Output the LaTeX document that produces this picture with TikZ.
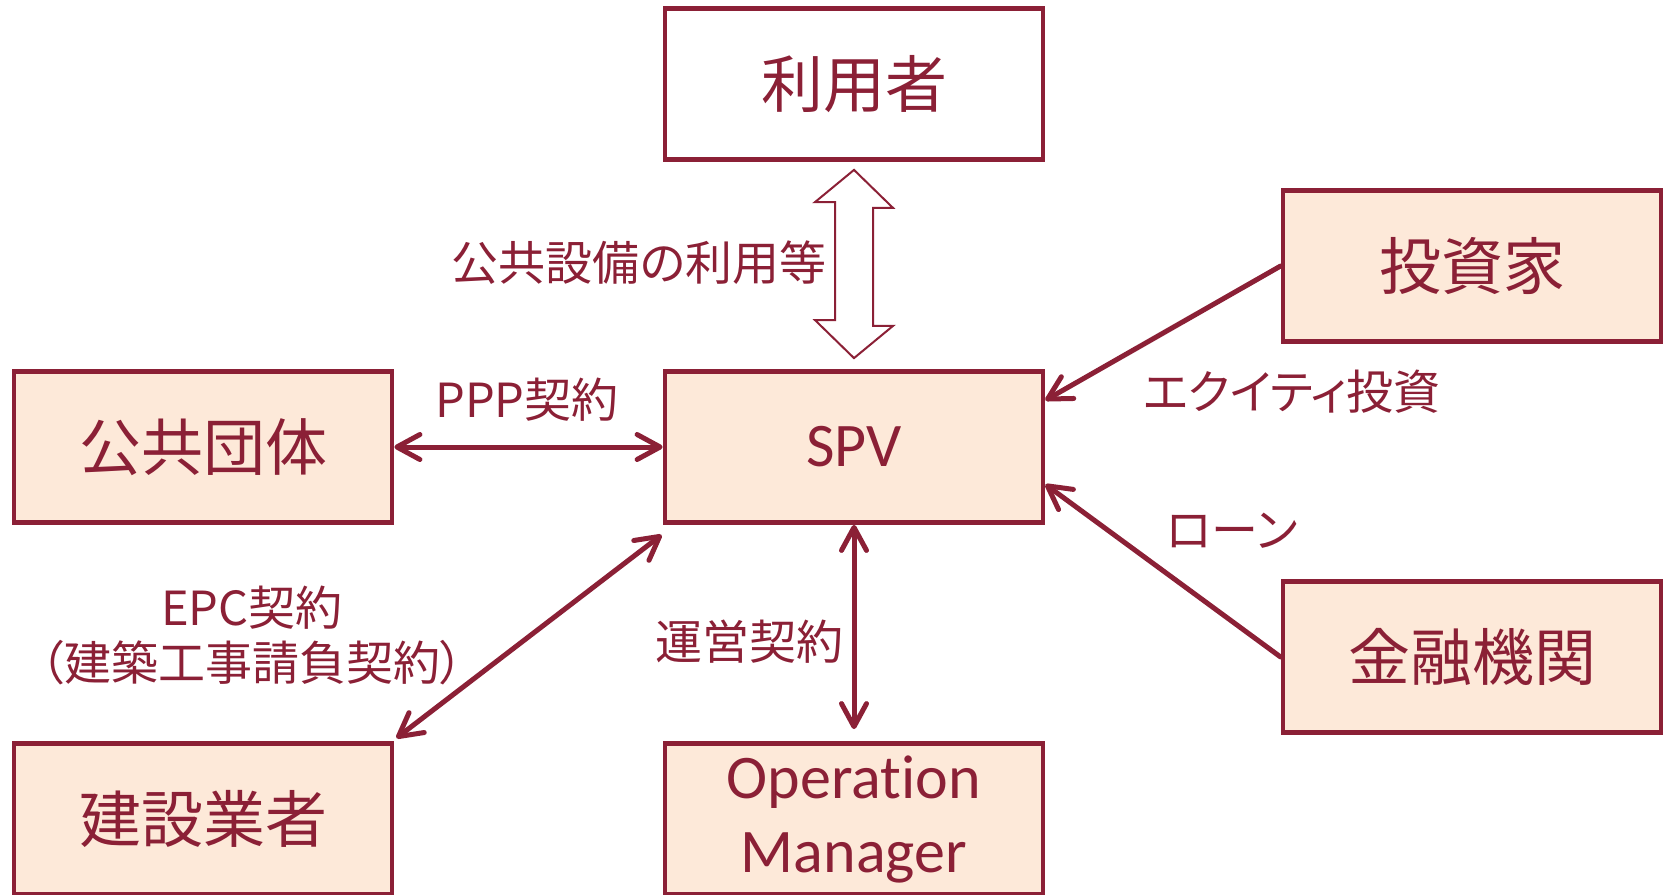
\documentclass[tikz,border=0pt]{standalone}
\usepackage{fontspec}
\setmainfont[RawFeature={-liga;-clig;-calt;-dlig}]{Carlito}
\newfontfamily\jp[RawFeature=+palt]{Noto Sans CJK JP}
\newfontfamily\jpb{Noto Sans CJK JP}
\usetikzlibrary{arrows.meta,calc}
\definecolor{dred}{RGB}{139,32,54}
\definecolor{peach}{RGB}{253,233,217}
\begin{document}
\begin{tikzpicture}[x=0.5pt,y=-0.5pt,
  box/.style={draw=dred, line width=2.4pt, minimum width=189pt, minimum height=75.5pt, inner sep=0pt, text=dred, align=center},
  fbox/.style={box, fill=peach},
  big/.style={font=\jpb\fontsize{31}{37}\selectfont},
  lat/.style={font=\fontsize{31}{37}\selectfont},
  lbl/.style={text=dred, font=\jp\fontsize{23.5}{28}\selectfont, inner sep=0pt},
  conn/.style={draw=dred, line width=2.5pt, line cap=round, >={Straight Barb[length=11.5pt,width=12.5pt,round]}},
  hollow/.style={draw=dred, line width=1pt, fill=white, line join=miter},
]
\useasboundingbox (0,0) rectangle (1664,894);

\node[box, big] (user) at (854,84) {利用者};
\node[fbox, lat] (spv) at (854,447) {SPV};
\node[fbox, big] (pub) at (203,447) {公共団体};
\node[fbox, big] (inv) at (1472,266) {投資家};
\node[fbox, big] (fin) at (1472,657) {金融機関};
\node[fbox, big] (con) at (203,819) {建設業者};
\node[fbox, lat] (om) at (854,819) {Operat\kern0pt ion\\Manager};

% hollow double arrow
\coordinate (ut) at ($(user.south)+(0,8)$);
\coordinate (ub) at ($(spv.north)+(0,-11)$);
\draw[hollow] (ut) -- ++(39,38) -- ++(-20,0) -- ++(0,118) -- ++(20,0) -- (ub)
  -- ++(-39,-38) -- ++(20,0) -- ++(0,-118) -- ++(-20,0) -- cycle;

\draw[conn,<->] (pub.east) -- (spv.west);
\draw[conn,->] (inv.west) -- ($(spv.north east)!0.2!(spv.south east)$);
\draw[conn,->] (fin.west) -- ($(spv.north east)!0.74!(spv.south east)$);
\draw[conn,<->] ($(con.north east)+(2,-3)$) -- ($(spv.south west)+(-1,10)$);
\draw[conn,<->] (spv.south) -- ($(om.north)+(0,-12)$);

\node[lbl] (l1) at (639,263) {公共設備の利用等};
\node[lbl] (l2) at (527,400) {PPP契約};
\node[lbl] (l3) at (1292,392) {エクイティ投資};
\node[lbl] (l4) at (1232,531) {ローン};
\node[lbl] (l5) at (252,608) {EPC契約};
\node[lbl] (l5b) at (252,663) {（建築工事請負契約）};
\node[lbl] (l6) at (749,642) {運営契約};
\end{tikzpicture}
\end{document}
